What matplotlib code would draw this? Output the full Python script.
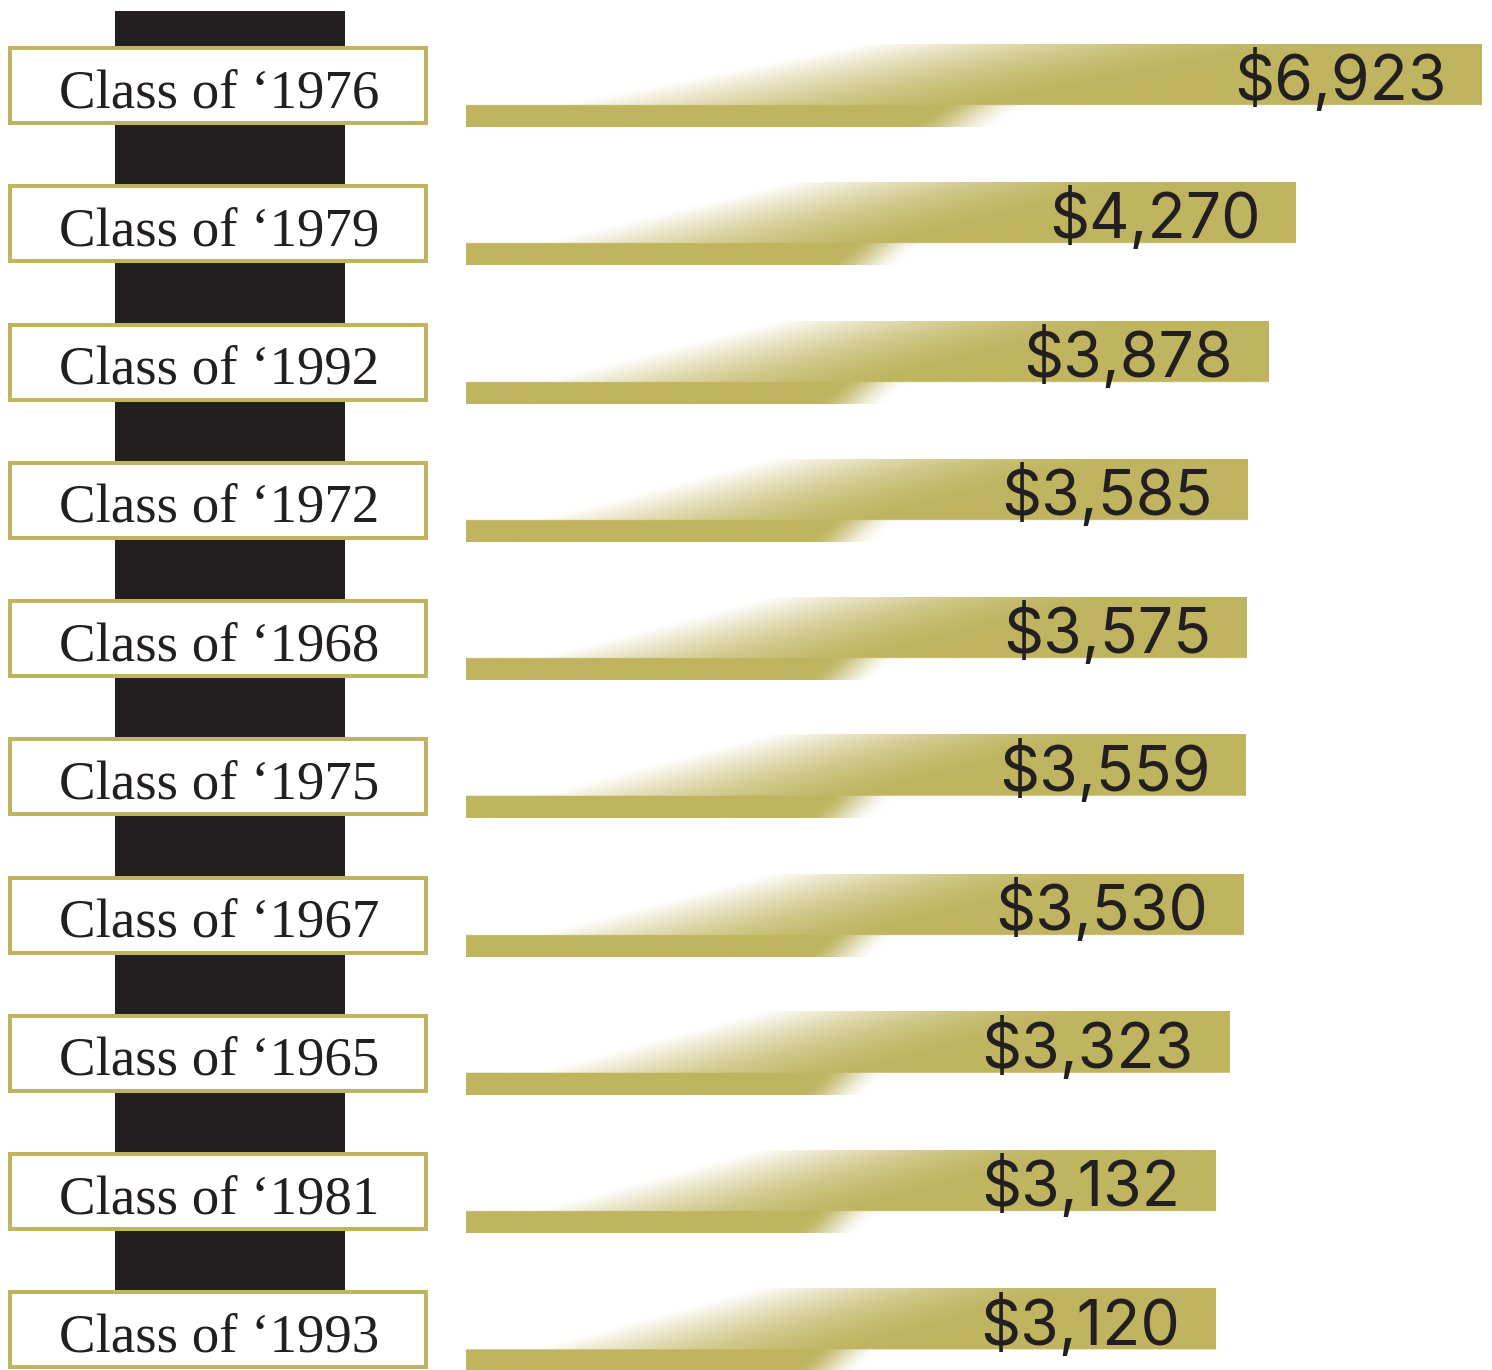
import numpy as np
import matplotlib
matplotlib.use("Agg")
import matplotlib.pyplot as plt
from matplotlib.patches import Rectangle
from matplotlib.colors import to_rgb

# ---- data ----
classes = ["1976", "1979", "1992", "1972", "1968", "1975", "1967", "1965", "1981", "1993"]
values = [6923, 4270, 3878, 3585, 3575, 3559, 3530, 3323, 3132, 3120]
labels = ["Class of \u2018" + c for c in classes]
value_labels = ["${:,}".format(v) for v in values]

GOLD = "#bfb45f"
DARK = "#231f20"

W, H = 1492, 1370
fig = plt.figure(figsize=(W / 100, H / 100), dpi=100)

# row geometry (rows in category units)
px_per_row = (1330 - 85.5) / 9
ylim = ((H - 85.5) / px_per_row, -85.5 / px_per_row)

# left axes in pixel x-units
ax_l = fig.add_axes([0, 0, 1, 1])
ax_l.set_xlim(0, W)
ax_l.set_ylim(*ylim)
ax_l.axis("off")

# black column
top_row = (11 - 85.5) / px_per_row
bot_row = (1292 - 85.5) / px_per_row
ax_l.add_patch(Rectangle((115, top_row), 230, bot_row - top_row, facecolor=DARK,
                         edgecolor="none", zorder=1))

box_h = 75 / px_per_row
for i, lab in enumerate(labels):
    ax_l.add_patch(Rectangle((10, i - box_h / 2), 416, box_h, facecolor="white",
                             edgecolor=GOLD, linewidth=2.9, zorder=2))
    ax_l.text(219, i + 21.5 / px_per_row, lab, ha="center", va="baseline",
              fontsize=39.5, family="Liberation Serif", color=DARK, zorder=3)

# bar axes in value units (offset linear scale)
slope = 0.0702          # px per value unit
icpt = 996.0            # px at value 0
x0 = (466 - icpt) / slope
x1 = (W - icpt) / slope
ax_b = fig.add_axes([466 / W, 0, (W - 466) / W, 1])
ax_b.set_facecolor("none")
ax_b.axis("off")

gold = np.array(to_rgb(GOLD))
white = np.array([1.0, 1.0, 1.0])
bar_h = 83 / px_per_row
nr, nc = 166, 800
t = np.linspace(0, 1, nr)[:, None]
s = np.linspace(0, 1, nc)[None, :]
split = 61 / 83
tu = t / split
start = 0.39 - 0.30 * tu
f = np.clip((s - start) / 0.46, 0, 1)
g_up = 1 - (1 - f) ** 1.8
tl = (t - split) / (1 - split)
c = 0.465 - 0.03 * tl
v_ = np.clip((s - c) / 0.09, 0, 1)
g_lo = 1 - v_ * v_ * (3 - 2 * v_)
g = np.where(t <= split, g_up, g_lo)
g = np.broadcast_to(g, (nr, nc))
img = white[None, None, :] * (1 - g[..., None]) + gold[None, None, :] * g[..., None]

for i, (v, vl) in enumerate(zip(values, value_labels)):
    ax_b.imshow(img, extent=(x0, v, i + bar_h / 2, i - bar_h / 2), origin="upper",
                aspect="auto", interpolation="bilinear", zorder=1)
    ax_b.annotate(vl, xy=(v, i + 14.5 / px_per_row), xytext=(-25.5, 0),
                  textcoords="offset points", ha="right", va="baseline",
                  fontsize=45, family="Inter", color=DARK, zorder=3)

ax_b.set_xlim(x0, x1)
ax_b.set_ylim(*ylim)

fig.savefig("out.png", dpi=100, facecolor="white")
